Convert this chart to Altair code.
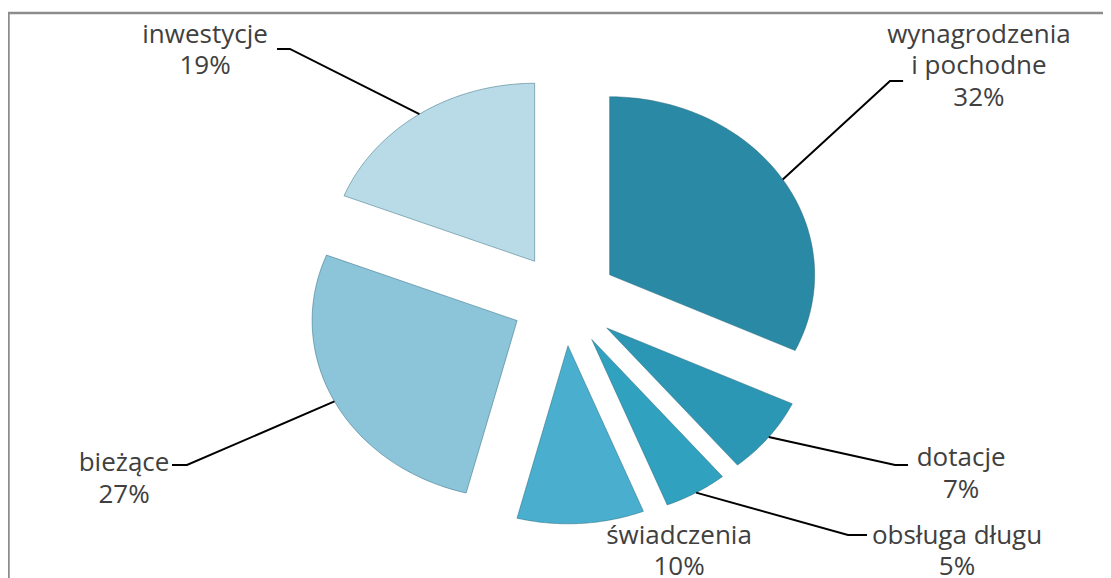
import altair as alt
import pandas as pd

# ---- data ----
kategorie = ["wynagrodzenia i pochodne", "dotacje", "obsługa długu",
             "świadczenia", "bieżące", "inwestycje"]
udzialy = [32, 7, 5, 10, 27, 19]

# ---- styles ----
kolory = ["#2a8aa6", "#2c97b5", "#31a1c0", "#4aafcf", "#8cc4d9", "#b9dae7"]

# ---- label layout (units of pie radius, relative to pie centre; y = first text line) ----
etyk_x = [2.021, 1.934, 1.914, 0.558, -2.149, -1.754]
etyk_y = [1.487, -0.890, -1.328, -1.328, -0.918, 1.487]
lokiec_x = [1.587, 1.612, 1.382, None, -1.842, -1.340]
koniec_x = [1.651, 1.675, 1.475, None, -1.915, -1.403]
linia_y = [1.228, -0.929, -1.322, None, -0.929, 1.408]

EXPLODE = 0.26
N = 60

df = pd.DataFrame({
    "idx": list(range(len(kategorie))),
    "kategoria": kategorie,
    "udzial": udzialy,
    "etykieta": [k.replace(" i ", "\ni ") + "\n" + f"{v}%" for k, v in zip(kategorie, udzialy)],
    "tx": etyk_x, "ty": etyk_y,
    "kx": lokiec_x, "ex": koniec_x, "ly": linia_y,
})

W, H = 1095, 570
xs = alt.Scale(domain=[-2.715, 2.626], nice=False, zero=False)
ys = alt.Scale(domain=[-1.564, 1.638], nice=False, zero=False)


def angles(ch):
    return ch.transform_joinaggregate(total="sum(udzial)").transform_window(
        cum="sum(udzial)", sort=[alt.SortField("idx")], frame=[None, 0]
    ).transform_calculate(
        a0="2*PI*(datum.cum - datum.udzial)/datum.total",
        a1="2*PI*datum.cum/datum.total",
    ).transform_calculate(
        mid="(datum.a0 + datum.a1)/2"
    )


slices = angles(alt.Chart(df)).transform_calculate(
    steps=f"sequence(-1, {N + 2})"
).transform_flatten(["steps"], as_=["step"]).transform_calculate(
    ang=f"datum.a0 + (datum.a1 - datum.a0) * clamp(datum.step, 0, {N}) / {N}",
    rr=f"(datum.step < 0 || datum.step > {N}) ? 0 : 1",
).transform_calculate(
    px=f"{EXPLODE}*sin(datum.mid) + datum.rr*sin(datum.ang)",
    py=f"{EXPLODE}*cos(datum.mid) + datum.rr*cos(datum.ang)",
).mark_line(filled=True, stroke="#1f5f72", strokeOpacity=0.45, strokeWidth=1).encode(
    x=alt.X("px:Q", scale=xs, axis=None),
    y=alt.Y("py:Q", scale=ys, axis=None),
    color=alt.Color("kategoria:N", scale=alt.Scale(domain=kategorie, range=kolory), legend=None),
    order=alt.Order("step:Q"),
)

leaders = angles(alt.Chart(df)).transform_filter("isValid(datum.kx)").transform_calculate(
    pts="[0, 1, 2]"
).transform_flatten(["pts"], as_=["pt"]).transform_calculate(
    lx=f"datum.pt == 0 ? {1 + EXPLODE}*sin(datum.mid) : (datum.pt == 1 ? datum.kx : datum.ex)",
    lyy=f"datum.pt == 0 ? {1 + EXPLODE}*cos(datum.mid) : datum.ly",
).mark_line(color="#000000", strokeWidth=2).encode(
    x=alt.X("lx:Q", scale=xs, axis=None),
    y=alt.Y("lyy:Q", scale=ys, axis=None),
    detail="kategoria:N",
    order=alt.Order("pt:Q"),
)

labels = alt.Chart(df).mark_text(
    font="Open Sans", fontSize=26, color="#404040", lineBreak="\n",
    lineHeight=31.5, baseline="middle", align="center"
).encode(
    x=alt.X("tx:Q", scale=xs, axis=None),
    y=alt.Y("ty:Q", scale=ys, axis=None),
    text="etykieta:N",
)

one = alt.Data(values=[{}])
top_border = alt.Chart(one).mark_rule(color="#8c8c8c", strokeWidth=2.5).encode(
    x=alt.value(0), x2=alt.value(W), y=alt.value(5)
)
left_border = alt.Chart(one).mark_rule(color="#8c8c8c", strokeWidth=2.5).encode(
    x=alt.value(0.5), y=alt.value(5), y2=alt.value(H)
)

chart = alt.layer(slices, leaders, labels, top_border, left_border).properties(
    width=W, height=H, autosize=alt.AutoSizeParams(type="none"), padding=0
).configure_view(stroke=None)

chart.save("out.html", embed_options={"renderer": "svg", "actions": False})
